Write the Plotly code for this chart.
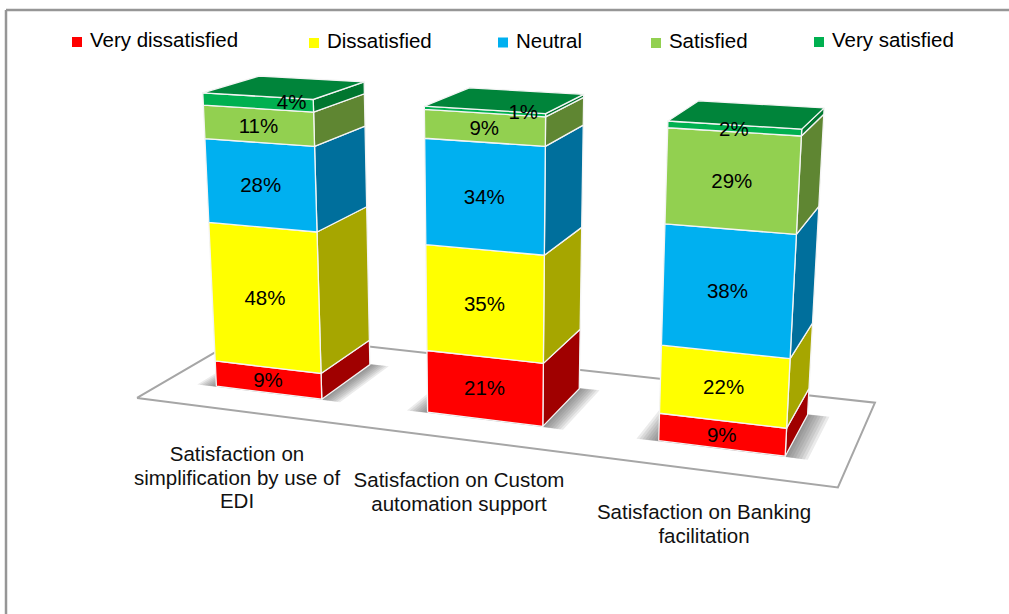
import plotly.graph_objects as go

# ---- data ----
category_lines = [
    ["Satisfaction on", "simplification by use of", "EDI"],
    ["Satisfaction on Custom", "automation support"],
    ["Satisfaction on Banking", "facilitation"],
]
series_names = ["Very dissatisfied", "Dissatisfied", "Neutral", "Satisfied", "Very satisfied"]
very_dissatisfied = [9, 21, 9]
dissatisfied = [48, 35, 22]
neutral = [28, 34, 38]
satisfied = [11, 9, 29]
very_satisfied = [4, 1, 2]
series_values = [very_dissatisfied, dissatisfied, neutral, satisfied, very_satisfied]

# ---- styles ----
front_colors = ["#FF0000", "#FFFF00", "#00B0F0", "#92D050", "#00B050"]
side_colors = ["#A00000", "#A6A600", "#006F9C", "#5F8632", "#00762F"]
top_color = "#00843A"
FONT = "Liberation Sans, Arial, sans-serif"
TEXT_SIZE = 20.5

# ---- perspective camera (floor width = 1 unit) ----
FOCAL, CX, CY = 1700.0, 500.0, 300.0
ORIGIN = (-0.521, 0.1406, 2.44)
DX = (0.942, 0.093, -0.322)
DY = (0.336, -0.257, 0.906)
DZ = (0.0016, -0.962, -0.273)
FLOOR_DEPTH = 0.339
FULL_HEIGHT = 0.432
BAR_W = 0.17
BAR_V0 = 0.085


def project(u, v, pct=0.0):
    h = pct / 100.0 * FULL_HEIGHT
    c = [ORIGIN[i] + u * DX[i] + v * DY[i] + h * DZ[i] for i in range(3)]
    return CX + FOCAL * c[0] / c[2], CY + FOCAL * c[1] / c[2]


def poly(points):
    pts = [project(*p) for p in points]
    pts.append(pts[0])
    return [p[0] for p in pts], [p[1] for p in pts]


def center(i):
    return (i + 0.5) / len(category_lines)


fig = go.Figure()


def add_poly(xs, ys, fill, line_color, line_width, name=None):
    fig.add_trace(go.Scatter(x=xs, y=ys, mode="lines", fill="toself", fillcolor=fill,
                             line=dict(color=line_color, width=line_width),
                             hoverinfo="skip", showlegend=False, name=name))


# floor
x, y = poly([(0, 0), (1, 0), (1, FLOOR_DEPTH), (0, FLOOR_DEPTH)])
add_poly(x, y, "#FFFFFF", "#A6A6A6", 2)

# soft base shadows
for m in [0.030, 0.026, 0.022, 0.018, 0.014, 0.010, 0.006, 0.003]:
    xs, ys = [], []
    for i in range(len(category_lines)):
        u0, u1 = center(i) - BAR_W / 2, center(i) + BAR_W / 2
        v0, v1 = BAR_V0, BAR_V0 + BAR_W
        px, py = poly([(u0 - m, v0 - m * 0.1), (u1 + m, v0 - m * 0.1),
                       (u1 + m, v1 + m * 0.1), (u0 - m, v1 + m * 0.1)])
        xs += px + [None]
        ys += py + [None]
    add_poly(xs, ys, "rgba(90,90,90,0.12)", "rgba(0,0,0,0)", 0)

# bars: right sides, fronts, tops
for s, values in enumerate(series_values):
    fx, fy, sx, sy = [], [], [], []
    for i, val in enumerate(values):
        base = sum(series_values[k][i] for k in range(s))
        u0, u1 = center(i) - BAR_W / 2, center(i) + BAR_W / 2
        v0, v1 = BAR_V0, BAR_V0 + BAR_W
        px, py = poly([(u0, v0, base), (u1, v0, base), (u1, v0, base + val), (u0, v0, base + val)])
        fx += px + [None]
        fy += py + [None]
        px, py = poly([(u1, v0, base), (u1, v1, base), (u1, v1, base + val), (u1, v0, base + val)])
        sx += px + [None]
        sy += py + [None]
    add_poly(sx, sy, side_colors[s], "#F4F4F4", 1.3)
    add_poly(fx, fy, front_colors[s], "#F4F4F4", 1.3, series_names[s])

xs, ys = [], []
for i in range(len(category_lines)):
    total = sum(v[i] for v in series_values)
    u0, u1 = center(i) - BAR_W / 2, center(i) + BAR_W / 2
    v0, v1 = BAR_V0, BAR_V0 + BAR_W
    px, py = poly([(u0, v0, total), (u1, v0, total), (u1, v1, total), (u0, v1, total)])
    xs += px + [None]
    ys += py + [None]
add_poly(xs, ys, top_color, "#F4F4F4", 1.3)

# value labels on the front faces (small topmost ones nudged as in the original)
nudge = {(4, 0): 34, (4, 1): 39}
lx, ly, lt = [], [], []
for s, values in enumerate(series_values):
    for i, val in enumerate(values):
        base = sum(series_values[k][i] for k in range(s))
        px, py = project(center(i), BAR_V0, base + val / 2)
        lx.append(px + nudge.get((s, i), 0))
        ly.append(py + 2)
        lt.append(f"{val}%")
fig.add_trace(go.Scatter(x=lx, y=ly, text=lt, mode="text", textposition="middle center",
                         textfont=dict(family=FONT, size=TEXT_SIZE, color="#000000"),
                         hoverinfo="skip", showlegend=False))

# category labels, one text item per line
label_centers = [237, 459, 704]
label_first_y = [456, 482, 514]
LINE_STEP = 23.5
cx_, cy_, ct_ = [], [], []
for lines, lcx, ly0 in zip(category_lines, label_centers, label_first_y):
    for n, line in enumerate(lines):
        cx_.append(lcx)
        cy_.append(ly0 + n * LINE_STEP)
        ct_.append(line)
fig.add_trace(go.Scatter(x=cx_, y=cy_, text=ct_, mode="text", textposition="middle center",
                         textfont=dict(family=FONT, size=TEXT_SIZE, color="#111111"),
                         hoverinfo="skip", showlegend=False))

# legend
legend_x = [77, 314, 503, 656, 819]
legend_y = [42, 43, 42.5, 43, 42]
for name, color, lgx, lgy in zip(series_names, front_colors, legend_x, legend_y):
    fig.add_trace(go.Scatter(x=[lgx], y=[lgy], text=[" " + name], mode="markers+text",
                             textposition="middle right",
                             marker=dict(symbol="square", size=10, color=color),
                             textfont=dict(family=FONT, size=TEXT_SIZE, color="#000000"),
                             hoverinfo="skip", showlegend=False))

fig.update_layout(
    width=1009, height=614, autosize=False,
    margin=dict(l=0, r=0, t=0, b=0),
    paper_bgcolor="#FFFFFF", plot_bgcolor="#FFFFFF",
    xaxis=dict(range=[0, 1009], visible=False, fixedrange=True),
    yaxis=dict(range=[614, 0], visible=False, fixedrange=True),
    showlegend=False,
    shapes=[
        dict(type="line", xref="x", yref="y", x0=6, y0=10, x1=1009, y1=10,
             line=dict(color="#969696", width=2.5)),
        dict(type="line", xref="x", yref="y", x0=6, y0=10, x1=6, y1=614,
             line=dict(color="#969696", width=2.5)),
    ],
)

fig.write_html("out.html", config={"displayModeBar": False},
               post_script="document.body.style.margin='0';document.documentElement.style.overflow='hidden';")
